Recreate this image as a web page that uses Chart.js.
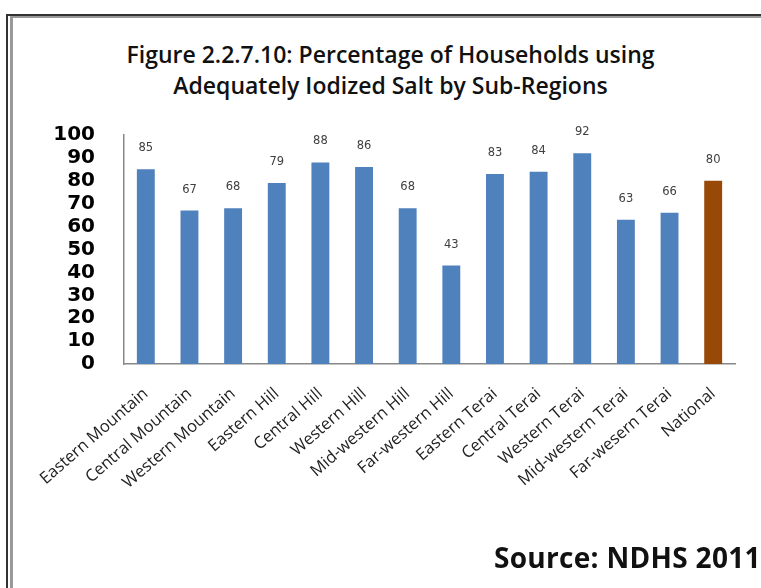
<!DOCTYPE html>
<html>
<head>
<meta charset="utf-8">
<script src="https://cdn.jsdelivr.net/npm/chart.js@4/dist/chart.umd.min.js"></script>
<style>
  html, body { margin: 0; padding: 0; background: #fff; }
  #wrap { position: relative; width: 761px; height: 588px; overflow: hidden; }
  #frameOuter { position: absolute; left: 6px; top: 14px; width: 800px; height: 600px;
    border-left: 2px solid #333; border-top: 2px solid #333; }
  #frameInner { position: absolute; left: 10px; top: 16px; width: 800px; height: 600px;
    border-left: 3px solid #999; border-top: 2px solid #999; }
  #title { position: absolute; left: 0; width: 781px; top: 39px; text-align: center;
    font-family: "Open Sans", sans-serif; font-weight: 600; font-size: 23px; line-height: 31px; color: #111; }
  #source { position: absolute; left: 494px; top: 538px; letter-spacing: 0.3px;
    font-family: "Open Sans", sans-serif; font-weight: 700; font-size: 28px; color: #111; }
  canvas { position: absolute; left: 0; top: 0; }
</style>
</head>
<body>
<div id="wrap">
  <div id="frameOuter"></div>
  <div id="frameInner"></div>
  <div id="title">Figure 2.2.7.10: Percentage of Households using<br>Adequately Iodized Salt by Sub-Regions</div>
  <canvas id="myChart" width="761" height="588"></canvas>
  <div id="source">Source: NDHS 2011</div>
</div>
<script>
// categories and values
const regions = [
  "Eastern Mountain", "Central Mountain", "Western Mountain", "Eastern Hill",
  "Central Hill", "Western Hill", "Mid-western Hill", "Far-western Hill",
  "Eastern Terai", "Central Terai", "Western Terai", "Mid-western Terai",
  "Far-wesern Terai", "National"
];
const percentIodized = [85, 67, 68, 79, 88, 86, 68, 43, 83, 84, 92, 63, 66, 80];
const yTicks = [0, 10, 20, 30, 40, 50, 60, 70, 80, 90, 100];

const blue = "#4F81BD";
const brown = "#984807";
const barColors = regions.map((r) => (r === "National" ? brown : blue));

//* value labels above each bar
const valueLabels = {
  id: "valueLabels",
  afterDatasetsDraw(chart) {
    const ctx = chart.ctx;
    const meta = chart.getDatasetMeta(0);
    ctx.save();
    ctx.font = "11.5px 'DejaVu Sans'";
    ctx.fillStyle = "#404040";
    ctx.textAlign = "center";
    ctx.textBaseline = "middle";
    meta.data.forEach((bar, i) => {
      ctx.fillText(percentIodized[i], bar.x, bar.y - 21);
    });
    ctx.restore();
  },
};

const ctx = document.querySelector("#myChart").getContext("2d");
const myChart = new Chart(ctx, {
  type: "bar",
  data: {
    labels: regions,
    datasets: [
      {
        data: percentIodized,
        backgroundColor: barColors,
        categoryPercentage: 1,
        barPercentage: 0.41,
      },
    ],
  },
  options: {
    responsive: false,
    animation: false,
    layout: { padding: { top: 135, right: 26, left: 0, bottom: 0 } },
    plugins: {
      legend: { display: false },
      tooltip: { enabled: false },
    },
    scales: {
      x: {
        grid: { display: false, drawTicks: false },
        border: { display: true, color: "#888", width: 1.5 },
        ticks: {
          autoSkip: false,
          minRotation: 41,
          maxRotation: 41,
          padding: 20,
          color: "#222",
          font: { family: "'Open Sans'", size: 16.5 },
        },
        afterFit: (scale) => {
          scale.height = 588 - 364;
        },
      },
      y: {
        min: 0,
        max: 100,
        afterBuildTicks: (scale) => {
          scale.ticks = yTicks.map((v) => ({ value: v }));
        },
        grid: { display: false, drawTicks: false },
        border: { display: true, color: "#888", width: 1.5 },
        ticks: {
          autoSkip: false,
          padding: 29,
          color: "#000",
          font: { family: "'DejaVu Sans'", size: 20, weight: "bold" },
        },
        afterFit: (scale) => {
          scale.width = 124;
        },
      },
    },
  },
  plugins: [valueLabels],
});
</script>
</body>
</html>
